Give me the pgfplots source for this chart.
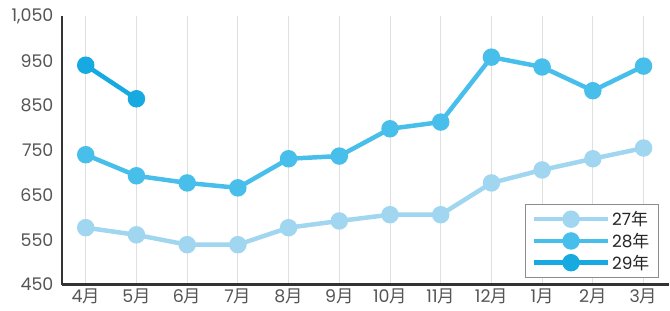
\documentclass[border=0pt]{standalone}
\usepackage{pgfplots}
\pgfplotsset{compat=1.18}
\usepackage{fontspec}
\setmainfont{Poppins}
\newfontfamily\cjk{Noto Sans CJK JP}
\definecolor{c27}{RGB}{160,214,240}
\definecolor{c28}{RGB}{72,190,234}
\definecolor{c29}{RGB}{22,170,224}
\definecolor{tx}{RGB}{85,85,85}
\begin{document}
\begin{tikzpicture}
\begin{axis}[
  scale only axis,
  width=608bp, height=269bp,
  xmin=-0.47, xmax=11.5,
  ymin=450, ymax=1050,
  ytick={450,550,650,750,850,950,1050},
  xtick={0,...,11},
  xticklabels={4{\cjk 月},5{\cjk 月},6{\cjk 月},7{\cjk 月},8{\cjk 月},9{\cjk 月},10{\cjk 月},11{\cjk 月},12{\cjk 月},1{\cjk 月},2{\cjk 月},3{\cjk 月}},
  /pgf/number format/1000 sep={,},
  /pgf/number format/assume math mode=true,
  axis x line*=bottom, axis y line*=left,
  axis line style={draw=black!80, line width=2.2pt, -},
  major tick length=0pt,
  xmajorgrids, grid style={draw=black!12, line width=1pt},
  tick label style={font=\fontsize{17.5}{19}\selectfont, text=tx},
  xticklabel style={yshift=-1pt},
  yticklabel style={xshift=-5pt},
  clip=false,
  legend style={at={(rel axis cs:0.983,0.025)}, anchor=south east,
    draw=black!45, line width=0.6pt, font=\fontsize{17}{19}\selectfont\color{black!85},
    row sep=2pt, inner xsep=7pt, inner ysep=5pt},
  legend cell align=left,
  legend image code/.code={\draw[mark repeat=2,mark phase=2,#1] plot coordinates {(0cm,0cm) (1.3cm,0cm) (2.6cm,0cm)};},
  every axis plot/.append style={line width=4.5pt, mark=*, mark size=6.5pt, mark options={line width=0pt}},
]
\addplot[c27, mark options={fill=c27, draw=c27}] coordinates {(0,577) (1,561) (2,539) (3,539) (4,577) (5,592) (6,606) (7,606) (8,677) (9,706) (10,731) (11,755)};
\addplot[c28, mark options={fill=c28, draw=c28}] coordinates {(0,740) (1,693) (2,677) (3,666) (4,731) (5,737) (6,798) (7,813) (8,958) (9,936) (10,883) (11,938)};
\addplot[c29, mark options={fill=c29, draw=c29}] coordinates {(0,940) (1,865)};
\legend{27{\cjk 年},28{\cjk 年},29{\cjk 年}}
\coordinate (topref) at (rel axis cs:0,1);
\coordinate (botref) at (rel axis cs:0,0);
\end{axis}
\path (topref) ++(0,16bp);
\path (botref) ++(-62bp,-26bp);
\end{tikzpicture}
\end{document}
